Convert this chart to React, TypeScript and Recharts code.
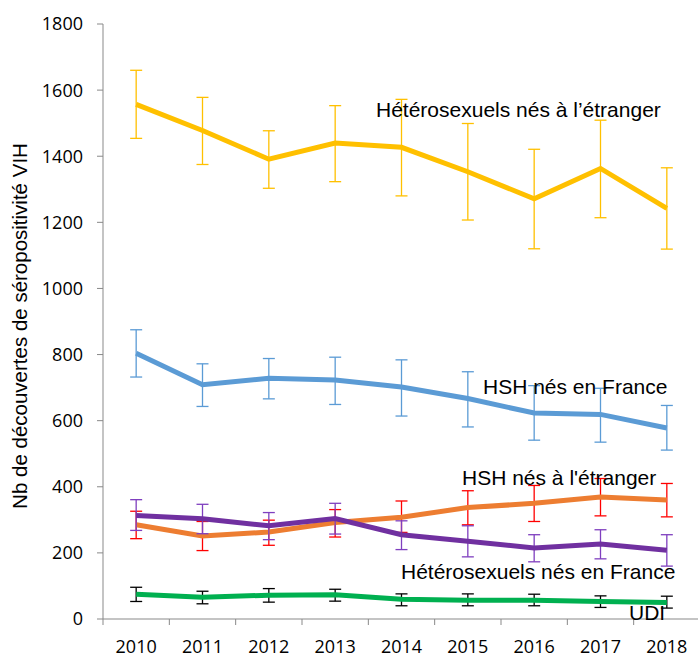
import { LineChart, Line, XAxis, YAxis, ErrorBar } from 'recharts';

// Découvertes de séropositivité VIH par mode de contamination, 2010-2018
const years = ['2010', '2011', '2012', '2013', '2014', '2015', '2016', '2017', '2018'];

const hetEtr   = [1557, 1478, 1391, 1440, 1427, 1353, 1271, 1363, 1242];
const hetEtrLo = [1454, 1375, 1303, 1323, 1280, 1207, 1120, 1214, 1119];
const hetEtrHi = [1660, 1578, 1477, 1553, 1572, 1499, 1421, 1509, 1365];

const hshFr   = [804, 709, 728, 723, 702, 667, 623, 619, 578];
const hshFrLo = [732, 643, 666, 649, 614, 581, 541, 535, 511];
const hshFrHi = [875, 772, 788, 792, 784, 748, 706, 698, 646];

const hshEtr   = [285, 251, 263, 292, 308, 337, 350, 369, 360];
const hshEtrLo = [243, 207, 223, 248, 262, 285, 295, 312, 309];
const hshEtrHi = [326, 295, 299, 331, 357, 388, 404, 425, 410];

const hetFr   = [313, 303, 282, 304, 255, 235, 215, 227, 208];
const hetFrLo = [268, 258, 240, 257, 210, 188, 173, 182, 160];
const hetFrHi = [361, 347, 322, 350, 297, 282, 255, 270, 255];

const udi   = [75, 66, 72, 73, 60, 57, 57, 53, 50];
const udiLo = [53, 46, 51, 54, 40, 40, 40, 35, 33];
const udiHi = [96, 84, 92, 90, 76, 76, 75, 70, 69];

const yTicks = [0, 200, 400, 600, 800, 1000, 1200, 1400, 1600, 1800];

const err = (v: number[], lo: number[], hi: number[], i: number) => [v[i] - lo[i], hi[i] - v[i]];

const data = years.map((year, i) => ({
  year,
  hetEtr: hetEtr[i], hetEtrErr: err(hetEtr, hetEtrLo, hetEtrHi, i),
  hshFr: hshFr[i], hshFrErr: err(hshFr, hshFrLo, hshFrHi, i),
  hshEtr: hshEtr[i], hshEtrErr: err(hshEtr, hshEtrLo, hshEtrHi, i),
  hetFr: hetFr[i], hetFrErr: err(hetFr, hetFrLo, hetFrHi, i),
  udi: udi[i], udiErr: err(udi, udiLo, udiHi, i),
}));

const W = 698;
const H = 657;
const margin = { top: 24, right: -2, bottom: 37, left: 0 };
const yAxisWidth = 103;
const band = (W - yAxisWidth - margin.right) / years.length;
const axisColor = '#898989';
const tickFont = { fontFamily: '"Open Sans", sans-serif', fontSize: 18, fill: '#000' };

// Excel-style category axis: tick marks between categories, label in the middle
const XTick = (props: any) => {
  const { x, y, payload } = props;
  return (
    <g>
      <line x1={x - band / 2} x2={x - band / 2} y1={y} y2={y + 6} stroke={axisColor} />
      <text x={x} y={y + 34} textAnchor="middle" {...tickFont}>{payload.value}</text>
    </g>
  );
};

const labelStyle = { fontFamily: '"Liberation Sans", Arial, sans-serif', fontSize: 21, fill: '#000' };

export default function App() {
  return (
    <div style={{ position: 'absolute', left: 0, top: 0, width: W, height: H, background: '#fff' }}>
      <LineChart width={W} height={H} data={data} margin={margin}>
        <XAxis
          dataKey="year"
          height={1}
          stroke={axisColor}
          tickLine={false}
          tickSize={0}
          tickMargin={0}
          tick={<XTick />}
          interval={0}
          padding={{ left: band / 2, right: band / 2 }}
        />
        <YAxis
          width={yAxisWidth}
          domain={[0, 1800]}
          ticks={yTicks}
          stroke={axisColor}
          tickSize={6}
          tickMargin={14}
          tick={tickFont}
          interval={0}
        />
        <Line type="linear" dataKey="hetEtr" stroke="#FFC000" strokeWidth={5} dot={false} isAnimationActive={false}>
          <ErrorBar dataKey="hetEtrErr" width={6} stroke="#FFC000" strokeWidth={1.3} direction="y" />
        </Line>
        <Line type="linear" dataKey="hshFr" stroke="#5B9BD5" strokeWidth={5} dot={false} isAnimationActive={false}>
          <ErrorBar dataKey="hshFrErr" width={6} stroke="#5B9BD5" strokeWidth={1.3} direction="y" />
        </Line>
        <Line type="linear" dataKey="hshEtr" stroke="#ED7D31" strokeWidth={5} dot={false} isAnimationActive={false}>
          <ErrorBar dataKey="hshEtrErr" width={6} stroke="#FF0000" strokeWidth={1.3} direction="y" />
        </Line>
        <Line type="linear" dataKey="hetFr" stroke="#7030A0" strokeWidth={5} dot={false} isAnimationActive={false}>
          <ErrorBar dataKey="hetFrErr" width={6} stroke="#7F3FBF" strokeWidth={1.3} direction="y" />
        </Line>
        <Line type="linear" dataKey="udi" stroke="#00B050" strokeWidth={5} dot={false} isAnimationActive={false}>
          <ErrorBar dataKey="udiErr" width={6} stroke="#000" strokeWidth={1.3} direction="y" />
        </Line>
      </LineChart>
      <svg width={W} height={H} style={{ position: 'absolute', left: 0, top: 0, pointerEvents: 'none' }}>
        <text x={27} y={326} transform="rotate(-90 27 326)" textAnchor="middle"
          fontFamily='"Liberation Sans", Arial, sans-serif' fontSize={20.5} fill="#000">
          Nb de découvertes de séropositivité VIH
        </text>
        <text x={376} y={117} {...labelStyle}>Hétérosexuels nés à l’étranger</text>
        <text x={483} y={394} {...labelStyle}>HSH nés en France</text>
        <text x={462} y={485} {...labelStyle}>HSH nés à l'étranger</text>
        <text x={401} y={579} {...labelStyle}>Hétérosexuels nés en France</text>
        <text x={629} y={620} {...labelStyle}>UDI</text>
      </svg>
    </div>
  );
}
